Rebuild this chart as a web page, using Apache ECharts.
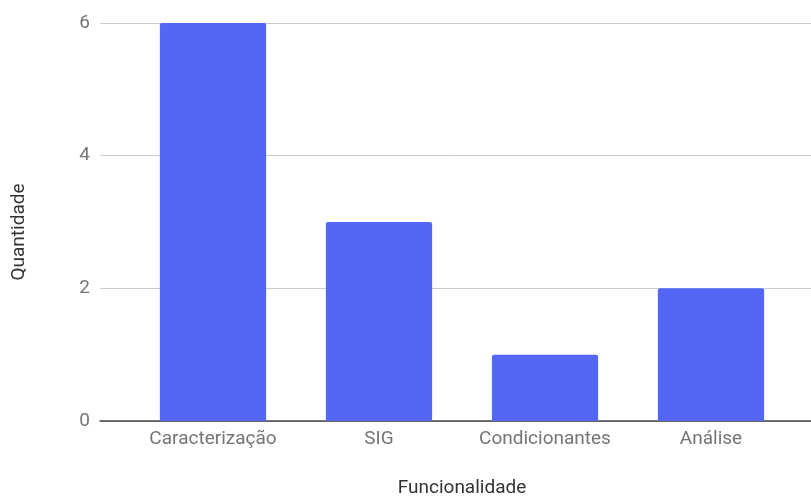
<!DOCTYPE html>
<html><head><meta charset="utf-8">
<script src="https://cdn.jsdelivr.net/npm/echarts@6/dist/echarts.min.js"></script>
<style>html,body{margin:0;padding:0;background:#fff}#c{width:811px;height:496px}</style>
</head><body><div id="c"></div>
<script>
const categories = ['Caracterização', 'SIG', 'Condicionantes', 'Análise'];
const values = [6, 3, 1, 2];
const yTicks = [0, 2, 4, 6];

const chart = echarts.init(document.getElementById('c'));
const font = 'Roboto';
chart.setOption({
  animation: false,
  grid: [
    {left: 100, right: 0, top: 23, bottom: 75, outerBoundsMode: 'none', containLabel: false},
    {left: 130, right: 17, top: 23, bottom: 75, outerBoundsMode: 'none', containLabel: false}
  ],
  xAxis: [
    {gridIndex: 0, type: 'value', min: 0, max: 1,
     axisLine: {show: true, onZero: false, lineStyle: {color: '#444', width: 1.5}},
     axisTick: {show: false}, axisLabel: {show: false}, splitLine: {show: false}},
    {gridIndex: 1, type: 'category', data: categories,
     axisLine: {show: false}, axisTick: {show: false},
     axisLabel: {color: '#757575', fontFamily: font, fontSize: 19, margin: 9, interval: 0, hideOverlap: false},
     name: 'Funcionalidade', nameLocation: 'middle', nameGap: 58,
     nameTextStyle: {color: '#333', fontFamily: font, fontSize: 19}}
  ],
  yAxis: [
    {gridIndex: 0, type: 'value', min: yTicks[0], max: yTicks[yTicks.length-1], interval: 2,
     axisLine: {show: false}, axisTick: {show: false},
     axisLabel: {color: '#757575', fontFamily: font, fontSize: 19, margin: 10},
     splitLine: {lineStyle: {color: '#cccccc', width: 1}},
     name: 'Quantidade', nameLocation: 'middle', nameGap: 71, nameRotate: 90,
     nameTextStyle: {color: '#333', fontFamily: font, fontSize: 19, padding: [0, 20, 0, 0]}},
    {gridIndex: 1, type: 'value', min: 0, max: 6, show: false}
  ],
  series: [{
    type: 'bar', xAxisIndex: 1, yAxisIndex: 1, data: values,
    barWidth: '64%',
    itemStyle: {color: '#5366f5', borderRadius: [2, 2, 0, 0]}
  }]
});
</script></body></html>
